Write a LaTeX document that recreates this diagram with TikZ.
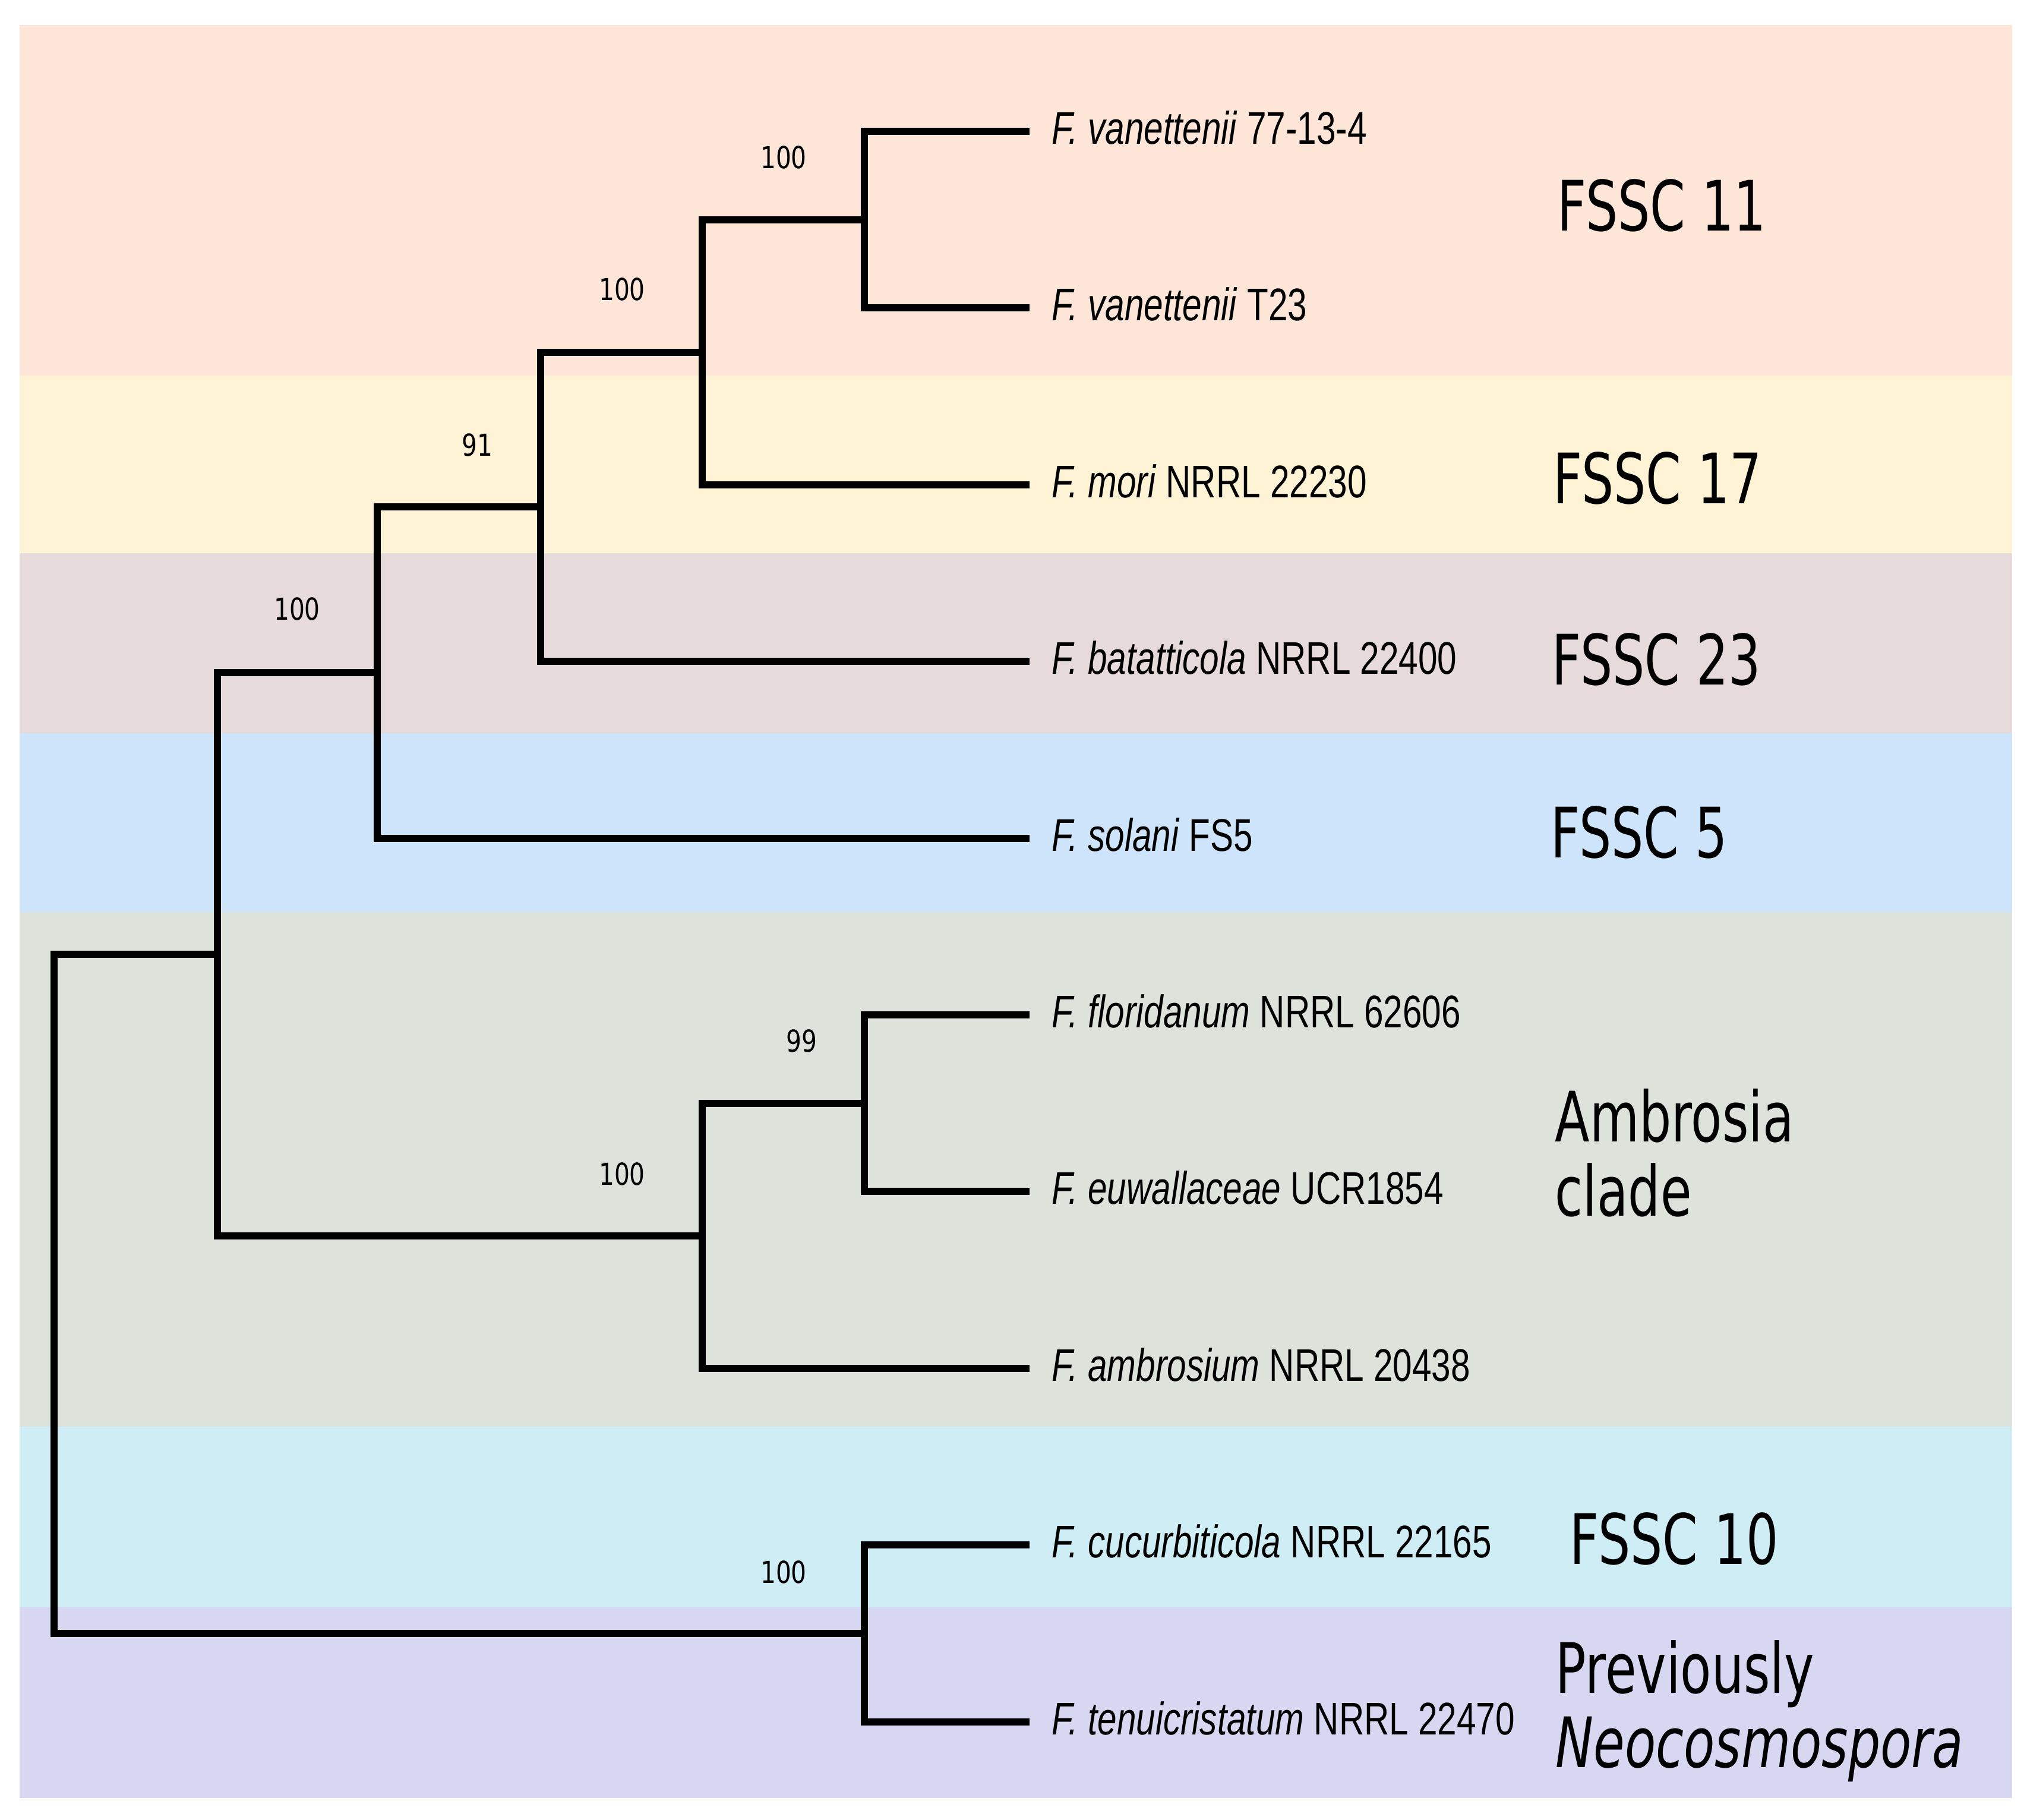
\documentclass[tikz,border=0pt]{standalone}
\usepackage{fontspec}
\usepackage{xcolor}
\usepackage{tikz}
\setmainfont{Liberation Sans}
\newfontfamily\leaffont[FakeStretch=0.76]{Liberation Sans}
\newfontfamily\cladefont[FakeStretch=0.73]{DejaVu Sans}
\newfontfamily\bootfont[FakeStretch=0.8]{DejaVu Sans}
\definecolor{cpeach}{RGB}{253,230,215}
\definecolor{cyellow}{RGB}{255,243,214}
\definecolor{cmauve}{RGB}{230,218,218}
\definecolor{cblue}{RGB}{206,228,250}
\definecolor{csage}{RGB}{221,227,219}
\definecolor{ccyan}{RGB}{206,237,244}
\definecolor{clilac}{RGB}{216,215,242}

\begin{document}
\begin{tikzpicture}[
  branch/.style={line width=3.4pt, line join=miter},
  leaf/.style={anchor=west, inner sep=0pt, yshift=0.6mm, font=\leaffont\fontsize{21.9pt}{26pt}\selectfont},
  boot/.style={inner sep=0pt, font=\bootfont\fontsize{14.5pt}{17pt}\selectfont},
  clade/.style={anchor=west, inner sep=0pt, align=left, font=\cladefont\fontsize{33.3pt}{35.6pt}\selectfont}]
\useasboundingbox (0,0) rectangle (34.12,-30.62);

% Clade bands
\fill[cpeach] (0.33,-0.42) rectangle (33.87,-6.32);
\fill[cyellow] (0.33,-6.32) rectangle (33.87,-9.31);
\fill[cmauve] (0.33,-9.31) rectangle (33.87,-12.34);
\fill[cblue] (0.33,-12.34) rectangle (33.87,-15.35);
\fill[csage] (0.33,-15.35) rectangle (33.87,-24.01);
\fill[ccyan] (0.33,-24.01) rectangle (33.87,-27.05);
\fill[clilac] (0.33,-27.05) rectangle (33.87,-30.26);

% Leaf tips and strain names
\coordinate (t1) at (17.33,-2.21);
\node[leaf] (l1) at (17.70,-2.21) {\textit{F. vanettenii} 77-13-4};
\coordinate (t2) at (17.33,-5.18);
\node[leaf] (l2) at (17.70,-5.18) {\textit{F. vanettenii} T23};
\coordinate (t3) at (17.33,-8.16);
\node[leaf] (l3) at (17.70,-8.16) {\textit{F. mori} NRRL 22230};
\coordinate (t4) at (17.33,-11.13);
\node[leaf] (l4) at (17.70,-11.13) {\textit{F. batatticola} NRRL 22400};
\coordinate (t5) at (17.33,-14.11);
\node[leaf] (l5) at (17.70,-14.11) {\textit{F. solani} FS5};
\coordinate (t6) at (17.33,-17.08);
\node[leaf] (l6) at (17.70,-17.08) {\textit{F. floridanum} NRRL 62606};
\coordinate (t7) at (17.33,-20.05);
\node[leaf] (l7) at (17.70,-20.05) {\textit{F. euwallaceae} UCR1854};
\coordinate (t8) at (17.33,-23.03);
\node[leaf] (l8) at (17.70,-23.03) {\textit{F. ambrosium} NRRL 20438};
\coordinate (t9) at (17.33,-26.00);
\node[leaf] (l9) at (17.70,-26.00) {\textit{F. cucurbiticola} NRRL 22165};
\coordinate (t10) at (17.33,-28.98);
\node[leaf] (l10) at (17.70,-28.98) {\textit{F. tenuicristatum} NRRL 22470};

% Internal nodes
\coordinate (n1) at (14.55,-3.70);
\coordinate (nA) at (11.82,-5.93);
\coordinate (nB) at (9.10,-8.53);
\coordinate (nC) at (6.35,-11.32);
\coordinate (n2) at (14.55,-18.57);
\coordinate (nE) at (11.82,-20.80);
\coordinate (nD) at (3.66,-16.06);
\coordinate (n3) at (14.55,-27.49);
\coordinate (root) at (0.91,-21.77);

% Branches
\draw[branch] (t1) -| (n1) |- (t2);
\draw[branch] (n1) -| (nA) |- (t3);
\draw[branch] (nA) -| (nB) |- (t4);
\draw[branch] (nB) -| (nC) |- (t5);
\draw[branch] (t6) -| (n2) |- (t7);
\draw[branch] (n2) -| (nE) |- (t8);
\draw[branch] (nC) -| (nD) |- (nE);
\draw[branch] (t9) -| (n3) |- (t10);
\draw[branch] (nD) -| (root) |- (n3);

% Bootstrap support
\node[boot] (b1) at (13.19,-2.65) {100};
\node[boot] (bA) at (10.47,-4.87) {100};
\node[boot] (bB) at (8.03,-7.49) {91};
\node[boot] (bC) at (5.00,-10.25) {100};
\node[boot] (b2) at (13.49,-17.52) {99};
\node[boot] (bE) at (10.47,-19.76) {100};
\node[boot] (b3) at (13.19,-26.46) {100};

% Clade names
\node[clade] (k11) at (26.21,-3.46) {FSSC 11};
\node[clade] (k17) at (26.14,-8.05) {FSSC 17};
\node[clade] (k23) at (26.12,-11.10) {FSSC 23};
\node[clade] (k5) at (26.10,-14.01) {FSSC 5};
\node[clade] (kamb) at (26.17,-19.40) {Ambrosia\\clade};
\node[clade] (k10) at (26.42,-25.90) {FSSC 10};
\node[clade] (kneo) at (26.18,-28.80) {Previously\\\textit{Neocosmospora}};
\end{tikzpicture}
\end{document}
